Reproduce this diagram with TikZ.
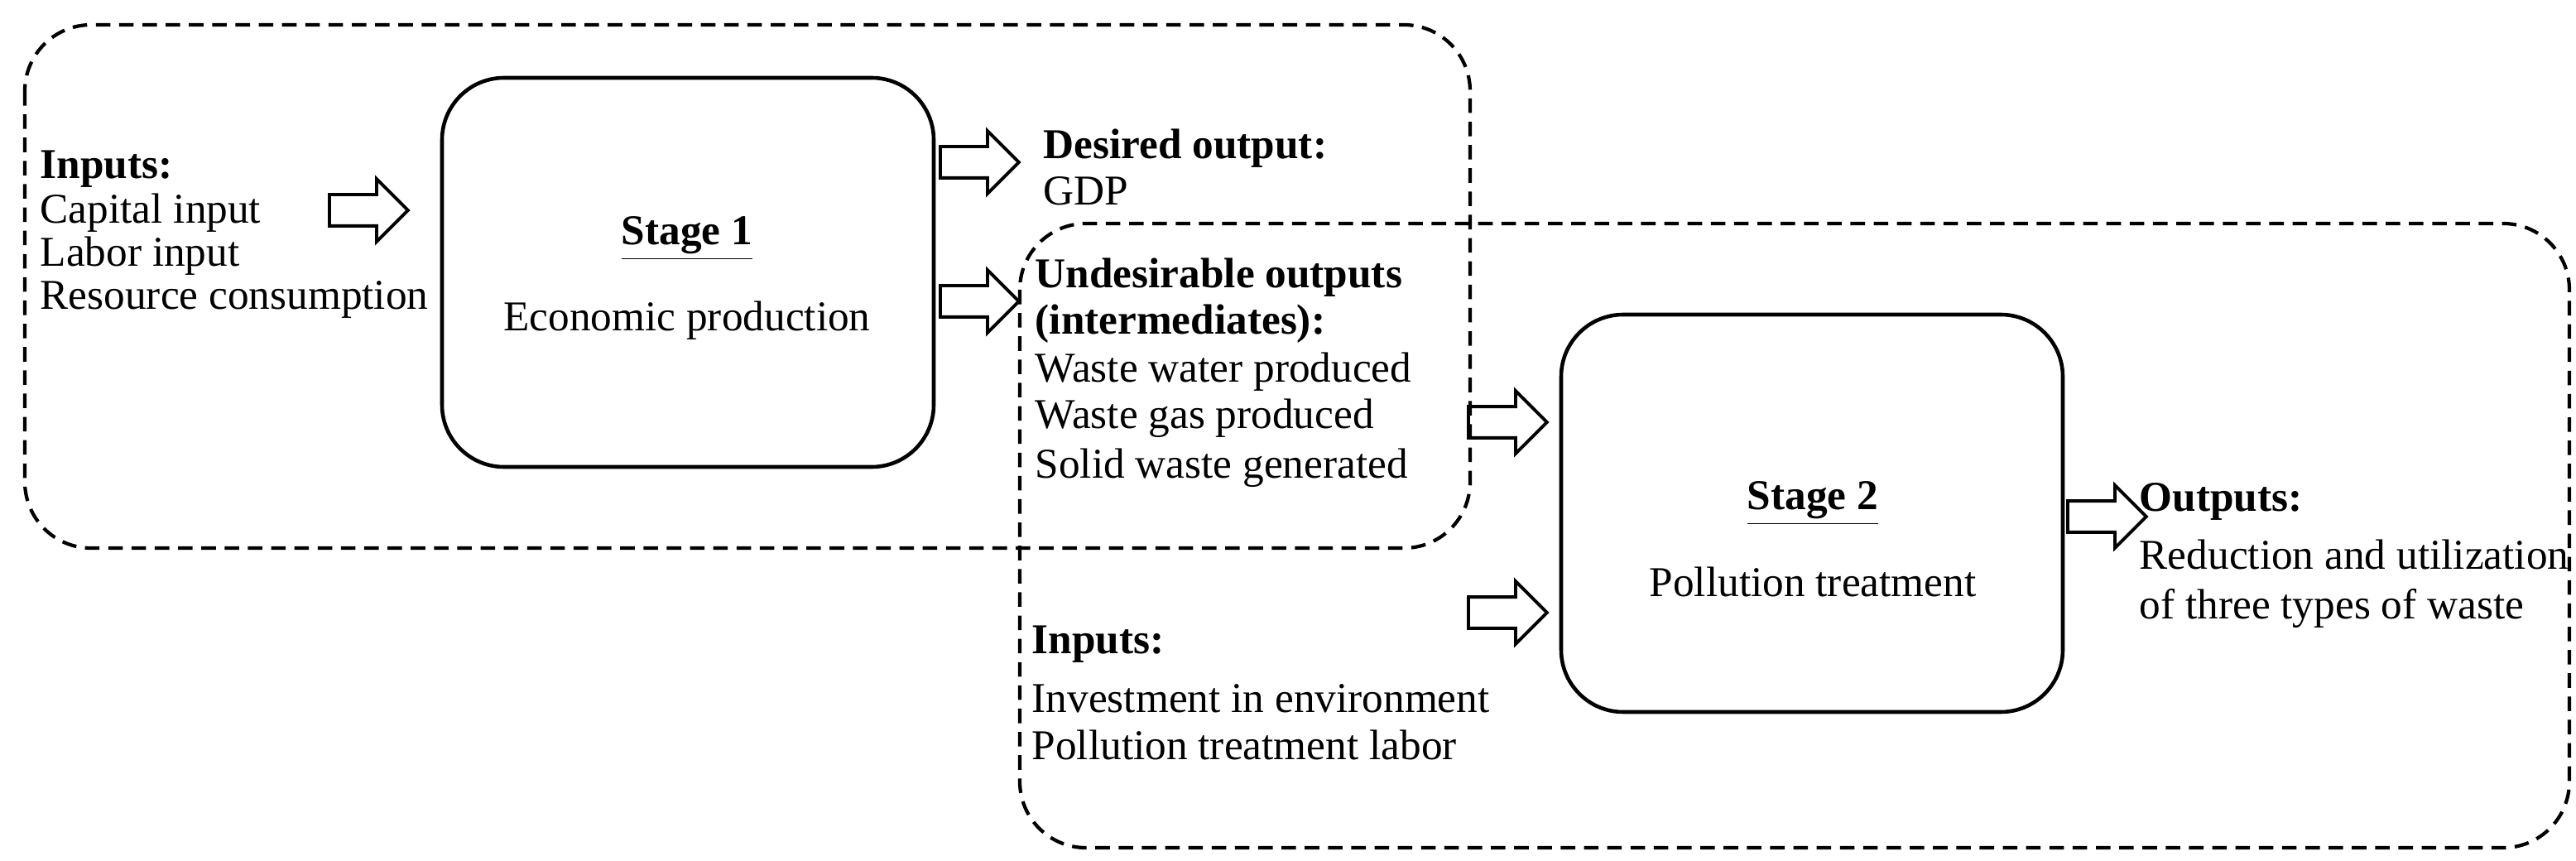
\documentclass[tikz,border=0pt]{standalone}
\usepackage{fontspec}
\setmainfont{Liberation Serif}
\usetikzlibrary{shapes.arrows}
\begin{document}
\begin{tikzpicture}[x=0.02cm,y=-0.02cm,
  txt/.style={anchor=base west,inner sep=0,font=\fontsize{14.6}{18}\selectfont},
  ctr/.style={anchor=base,inner sep=0,font=\fontsize{14.6}{18}\selectfont},
  dbox/.style={draw,dashed,line width=1.2pt,rounded corners=0.8cm,dash pattern=on 5pt off 3pt},
  stage/.style={draw,line width=1.3pt,rounded corners=0.75cm},
  barr/.style={single arrow,draw,line width=1.1pt,minimum height=0.95cm,minimum width=0.74cm,inner sep=0.17cm,single arrow head extend=0.19cm,single arrow head indent=0pt,anchor=west}]
\useasboundingbox (0,0) rectangle (1556,520);
\draw[dbox] (15,15) rectangle (888,331);
\draw[dbox] (616,135) rectangle (1552,512);
\draw[stage] (267,47) rectangle (564,282);
\draw[stage] (943,190) rectangle (1246,430);
% inputs
\node[txt] (in1) at (24,108) {\textbf{Inputs:}};
\node[txt] (in2) at (24,135) {Capital input};
\node[txt] (in3) at (24,161) {Labor input};
\node[txt] (in4) at (24,187) {Resource consumption};
\node[barr] (a1) at (198,127) {};
% stage1
\node[ctr] (s1a) at (415,148) {\underline{\textbf{Stage 1}}};
\node[ctr] (s1b) at (415,200) {Economic production};
\node[barr] (a2) at (567,98) {};
\node[barr] (a3) at (567,182) {};
\node[txt] (d1) at (630,96) {\textbf{Desired output:}};
\node[txt] (d2) at (630,124) {GDP};
\node[txt] (u1) at (625,174) {\textbf{Undesirable outputs}};
\node[txt] (u2) at (625,202) {\textbf{(intermediates):}};
\node[txt] (u3) at (625,231) {Waste water produced};
\node[txt] (u4) at (625,259) {Waste gas produced};
\node[txt] (u5) at (625,289) {Solid waste generated};
\node[barr] (a4) at (886,255) {};
\node[barr] (a5) at (886,370) {};
\node[txt] (i1) at (623,395) {\textbf{Inputs:}};
\node[txt] (i2) at (623,430) {Investment in environment};
\node[txt] (i3) at (623,459) {Pollution treatment labor};
\node[ctr] (s2a) at (1095,308) {\underline{\textbf{Stage 2}}};
\node[ctr] (s2b) at (1095,360) {Pollution treatment};
\node[barr] (a6) at (1248,312) {};
\node[txt] (o1) at (1292,309) {\textbf{Outputs:}};
\node[txt] (o2) at (1292,344) {Reduction and utilization};
\node[txt] (o3) at (1292,374) {of three types of waste};
\end{tikzpicture}
\end{document}
